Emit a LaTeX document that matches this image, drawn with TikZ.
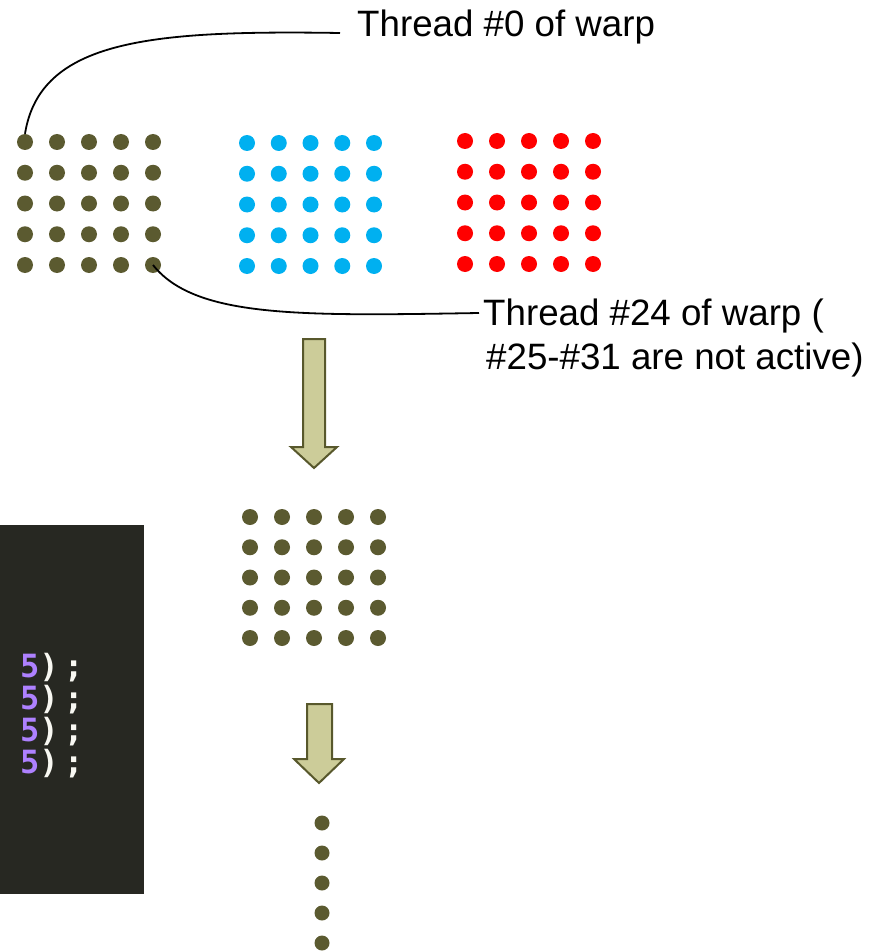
\documentclass[tikz,border=0pt]{standalone}
\usepackage{fontspec}
\setmainfont{Liberation Sans}
\newfontfamily\codefont[LetterSpace=17]{DejaVu Sans Mono}
\definecolor{olivedot}{RGB}{91,90,48}
\definecolor{bluedot}{RGB}{0,176,240}
\definecolor{reddot}{RGB}{255,0,0}
\definecolor{arrowfill}{RGB}{204,204,153}
\definecolor{arrowline}{RGB}{88,88,44}
\definecolor{codebg}{RGB}{39,40,34}
\definecolor{codenum}{RGB}{174,129,255}
\definecolor{codefg}{RGB}{248,248,242}
\tikzset{
  dot/.style={circle,inner sep=0pt,minimum size=16pt,fill=#1,draw=none},
  smalldot/.style={circle,inner sep=0pt,minimum size=15pt,fill=#1,draw=none},
  conn/.style={draw=black,line width=1.8pt},
  lbl/.style={inner sep=0pt,font=\fontsize{36.7}{44}\selectfont,text=black},
  flowarrow/.style={fill=arrowfill,draw=arrowline,line width=2pt,line join=miter},
  codeline/.style={inner sep=0pt,anchor=base west,font=\codefont\bfseries\fontsize{32}{36}\selectfont}
}
\begin{document}
\begin{tikzpicture}[x=1pt,y=-1pt]
\useasboundingbox (0,0) rectangle (872,952);

% code editor panel
\fill[codebg] (0,525) rectangle (144,894);
\foreach \i in {0,...,3}
  \node[codeline] (code\i) at (20,{677+32.3*\i}) {\textcolor{codenum}{5}\textcolor{codefg}{);}};

% three warps of 25 threads each
\foreach \r in {0,...,4}
  \foreach \c in {0,...,4} {
    \node[dot=olivedot] (a-\r-\c) at ({25+32*\c},{142+30.75*\r}) {};
    \node[dot=bluedot]  (b-\r-\c) at ({247+31.75*\c},{143+30.75*\r}) {};
    \node[dot=reddot]   (c-\r-\c) at ({465+32*\c},{141+30.75*\r}) {};
    \node[dot=olivedot] (d-\r-\c) at ({250+32*\c},{517+30.25*\r}) {};
  }

% continuation dots
\foreach \r in {0,...,4}
  \node[smalldot=olivedot] (e-\r) at (322,{823+30*\r}) {};

% labels
\node[lbl,anchor=base west] (l0) at (357,37) {Thread \#0 of warp};
\node[lbl,anchor=base west] (l24a) at (483,325) {Thread \#24 of warp (};
\node[lbl,anchor=base west] (l24b) at (486,369) {\#25-\#31 are not active)};

\coordinate (t0) at (340,33);
\coordinate (t24) at (479,313);

% callout connectors
\draw[conn] (a-0-0.north) .. controls (40,40) and (150,30) .. (t0);
\draw[conn] (a-4-4.center) .. controls (195,318) and (300,316) .. (t24);

% flow arrows
\draw[flowarrow] (303,339) -- (325,339) -- (325,447) -- (337,447) -- (314,468)
  -- (291,447) -- (303,447) -- cycle;
\draw[flowarrow] (307,704) -- (332,704) -- (332,759) -- (344,759) -- (319,783)
  -- (294,759) -- (307,759) -- cycle;
\end{tikzpicture}
\end{document}
